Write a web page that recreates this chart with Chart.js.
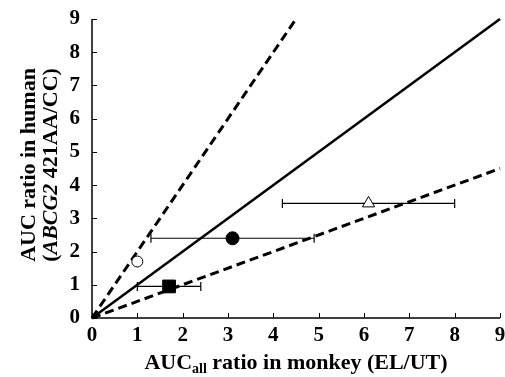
<!DOCTYPE html>
<html>
<head>
<meta charset="utf-8">
<script src="https://cdn.jsdelivr.net/npm/chart.js@4"></script>
<style>
  html, body { margin: 0; padding: 0; background: #fff; }
  #wrap { width: 505px; height: 377px; }
</style>
</head>
<body>
<div id="wrap"><canvas id="chart" width="505" height="377"></canvas></div>
<script>
// Values
const monkeyRatio = [1.0, 3.1, 6.1, 1.7];   // x: AUCall ratio in monkey
const humanRatio  = [1.7, 2.4, 3.45, 0.95]; // y: AUC ratio in human
const errLow      = [null, 1.3, 4.2, 1.0];  // x error bar ends
const errHigh     = [null, 4.9, 8.0, 2.4];
const unityLine   = [[0, 0], [9, 9]];
const upperFold   = [[0, 0], [4.5, 9]];
const lowerFold   = [[0, 0], [9, 4.5]];
const xTicks = [0, 1, 2, 3, 4, 5, 6, 7, 8, 9];
const yTicks = [0, 1, 2, 3, 4, 5, 6, 7, 8, 9];

const toXY = arr => arr.map(p => ({ x: p[0], y: p[1] }));
const pt = i => [{ x: monkeyRatio[i], y: humanRatio[i] }];
const bar = i => [{ x: errLow[i], y: humanRatio[i] }, { x: errHigh[i], y: humanRatio[i] }];

const FONT = '"Liberation Serif", "Times New Roman", serif';

const markers = [
  { data: pt(0), pointStyle: 'circle', pointRadius: 5.5, backgroundColor: '#fff', borderColor: '#000', pointBorderWidth: 1 },
  { data: pt(1), pointStyle: 'circle', pointRadius: 6.5, backgroundColor: '#000', borderColor: '#000', pointBorderWidth: 1 },
  { data: pt(2), pointStyle: 'triangle', pointRadius: 7, backgroundColor: '#fff', borderColor: '#000', pointBorderWidth: 1 },
  { data: pt(3), pointStyle: 'rect', pointRadius: 9, backgroundColor: '#000', borderColor: '#000', pointBorderWidth: 1 }
].map(d => Object.assign({ type: 'scatter', showLine: false }, d));

const errorBars = [1, 2, 3].map(i => ({
  type: 'line', data: bar(i), borderColor: '#000', borderWidth: 1.2,
  pointStyle: 'line', rotation: 90, pointRadius: 4.5, pointBorderWidth: 1.2,
  pointBorderColor: '#000'
}));

const refLine = (data, dash, width) => ({
  type: 'line', data: toXY(data), borderColor: '#000', borderWidth: width,
  borderDash: dash, pointRadius: 0
});

// axis lines, inside ticks and titles
const axesPlugin = {
  id: 'axesPlugin',
  afterDraw(chart) {
    const ctx = chart.ctx;
    const xs = chart.scales.x, ys = chart.scales.y;
    const a = chart.chartArea;
    ctx.save();
    ctx.strokeStyle = '#000';
    ctx.lineWidth = 1.5;
    ctx.beginPath();
    ctx.moveTo(a.left, a.top);
    ctx.lineTo(a.left, a.bottom);
    ctx.lineTo(a.right, a.bottom);
    ctx.stroke();
    ctx.lineWidth = 1;
    ctx.beginPath();
    xTicks.forEach(v => {
      const px = Math.round(xs.getPixelForValue(v)) + 0.5;
      ctx.moveTo(px, a.bottom);
      ctx.lineTo(px, a.bottom - 5);
    });
    yTicks.forEach(v => {
      const py = Math.round(ys.getPixelForValue(v)) + 0.5;
      ctx.moveTo(a.left, py);
      ctx.lineTo(a.left + 5, py);
    });
    ctx.stroke();

    ctx.fillStyle = '#000';
    ctx.textBaseline = 'alphabetic';
    // x title with subscript
    const big = 'bold 22px ' + FONT, small = 'bold 14px ' + FONT;
    const parts = [['AUC', big, 0], ['all', small, 4], [' ratio in monkey (EL/UT)', big, 0]];
    let w = 0;
    parts.forEach(p => { ctx.font = p[1]; w += ctx.measureText(p[0]).width; });
    let x = (a.left + a.right) / 2 - w / 2;
    const yb = 369;
    parts.forEach(p => { ctx.font = p[1]; ctx.fillText(p[0], x, yb + p[2]); x += ctx.measureText(p[0]).width; });

    // y title, two lines rotated
    const lines = [
      [['AUC ratio in human', big]],
      [['(', big], ['ABCG2', 'italic bold 22px ' + FONT], [' 421AA/CC)', big]]
    ];
    const baseX = [35, 57];
    const cy = 165;
    lines.forEach((segs, li) => {
      ctx.save();
      ctx.translate(baseX[li], cy);
      ctx.rotate(-Math.PI / 2);
      let lw = 0;
      segs.forEach(s => { ctx.font = s[1]; lw += ctx.measureText(s[0]).width; });
      let sx = -lw / 2;
      segs.forEach(s => { ctx.font = s[1]; ctx.fillText(s[0], sx, 0); sx += ctx.measureText(s[0]).width; });
      ctx.restore();
    });
    ctx.restore();
  }
};

new Chart(document.getElementById('chart'), {
  data: {
    datasets: [
      ...markers,
      ...errorBars,
      refLine(unityLine, [], 2.5),
      refLine(upperFold, [9, 5], 3),
      refLine(lowerFold, [9, 5], 3)
    ]
  },
  options: {
    responsive: false,
    animation: false,
    layout: { autoPadding: false, padding: { top: 19, right: 5, left: 0, bottom: 0 } },
    plugins: { legend: { display: false }, tooltip: { enabled: false } },
    elements: { line: { tension: 0 } },
    clip: false,
    scales: {
      x: {
        type: 'linear', min: 0, max: 9,
        afterFit: s => { s.height = 59; s.paddingLeft = 0; s.paddingRight = 0; },
        afterBuildTicks: s => { s.ticks = xTicks.map(v => ({ value: v })); },
        grid: { display: false },
        border: { display: false },
        ticks: { color: '#000', padding: -3, font: { family: FONT, size: 21, weight: 'bold' } }
      },
      y: {
        type: 'linear', min: 0, max: 9,
        afterFit: s => { s.width = 92; s.paddingTop = 0; s.paddingBottom = 0; },
        afterBuildTicks: s => { s.ticks = yTicks.map(v => ({ value: v })); },
        grid: { display: false },
        border: { display: false },
        ticks: { color: '#000', padding: 4, font: { family: FONT, size: 21, weight: 'bold' } }
      }
    }
  },
  plugins: [axesPlugin]
});
</script>
</body>
</html>
